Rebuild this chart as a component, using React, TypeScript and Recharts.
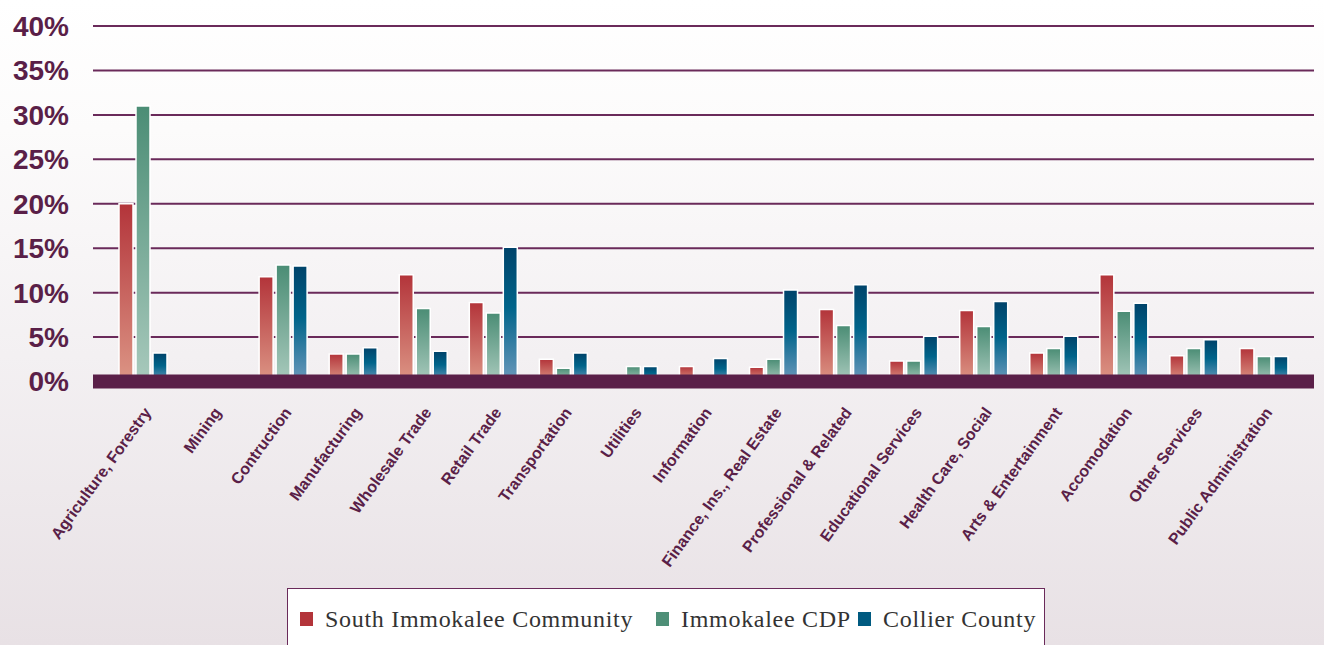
import React from "react";
import {
  BarChart, Bar, XAxis, YAxis, CartesianGrid, ReferenceLine,
} from "recharts";

const categories = [
  "Agriculture, Forestry", "Mining", "Contruction", "Manufacturing",
  "Wholesale Trade", "Retail Trade", "Transportation", "Utilities",
  "Information", "Finance, Ins., Real Estate", "Professional & Related",
  "Educational Services", "Health Care, Social", "Arts & Entertainment",
  "Accomodation", "Other Services", "Public Administration",
];

const southImmokalee = [20, 0, 11.8, 3.1, 12.0, 8.9, 2.5, 0, 1.7, 1.6, 8.1, 2.3, 8.0, 3.2, 12.0, 2.9, 3.7];
const immokaleeCdp = [31.0, 0, 13.1, 3.1, 8.2, 7.7, 1.5, 1.7, 0, 2.5, 6.3, 2.3, 6.2, 3.7, 7.9, 3.7, 2.8];
const collierCounty = [3.2, 0, 13.0, 3.8, 3.4, 15.1, 3.2, 1.7, 2.6, 10.3, 10.9, 5.1, 9.0, 5.1, 8.8, 4.7, 2.8];

const yTicks = [0, 5, 10, 15, 20, 25, 30, 35, 40];

const PURPLE = "#5a1f48";

const data = categories.map((name, i) => ({
  name,
  south: southImmokalee[i],
  cdp: immokaleeCdp[i],
  collier: collierCounty[i],
}));

const XTick = ({ x, y, payload }: any) => (
  <g transform={`translate(${x + 9},${y + 31})`}>
    <text
      textAnchor="end"
      transform="rotate(-54)"
      fontFamily="'Liberation Sans', Arial, sans-serif"
      fontWeight="bold"
      fontSize={16}
      fill={PURPLE}
    >
      {payload.value}
    </text>
  </g>
);

const legendItems = [
  { label: "South Immokalee Community", color: "#b3343a", left: 300 },
  { label: "Immokalee CDP", color: "#4e8f77", left: 656 },
  { label: "Collier County", color: "#005a80", left: 858 },
];

export default function App() {
  return (
    <div
      style={{
        position: "fixed", left: 0, top: 0, width: 1324, height: 645, overflow: "hidden",
        background: "linear-gradient(to bottom, #ffffff 0%, #fcfbfb 20%, #f3f0f2 55%, #e8e1e5 100%)",
      }}
    >
      <svg width={0} height={0} style={{ position: "absolute" }}>
        <defs>
          <linearGradient id="gRed" x1="0" y1="0" x2="0" y2="1">
            <stop offset="0%" stopColor="#b3343a" />
            <stop offset="100%" stopColor="#dc9585" />
          </linearGradient>
          <linearGradient id="gGreen" x1="0" y1="0" x2="0" y2="1">
            <stop offset="0%" stopColor="#4b8d75" />
            <stop offset="100%" stopColor="#a8c9bc" />
          </linearGradient>
          <linearGradient id="gBlue" x1="0" y1="0" x2="0" y2="1">
            <stop offset="0%" stopColor="#00436a" />
            <stop offset="45%" stopColor="#00648a" />
            <stop offset="100%" stopColor="#6b99bc" />
          </linearGradient>
        </defs>
      </svg>

      <BarChart
        width={1324}
        height={645}
        data={data}
        margin={{ top: 26, right: 10, left: 0, bottom: 0 }}
        barCategoryGap={11}
        barGap={3}
      >
        <CartesianGrid horizontal vertical={false} stroke="#6a2a5a" strokeWidth={2} strokeOpacity={1} />
        <XAxis
          dataKey="name"
          interval={0}
          height={263.5}
          padding={{ left: 15, right: 15 }}
          axisLine={false}
          tickLine={false}
          tickSize={0}
          tickMargin={0}
          tick={<XTick />}
        />
        <YAxis
          domain={[0, 40]}
          ticks={yTicks}
          width={93}
          axisLine={false}
          tickLine={false}
          tickSize={0}
          tickMargin={24}
          tickFormatter={(v) => `${v}%`}
          tick={{
            fontSize: 28, fontWeight: "bold", fill: PURPLE,
            fontFamily: "'Liberation Sans', Arial, sans-serif",
          }}
        />
        <Bar dataKey="south" fill="url(#gRed)" stroke="#ffffff" strokeWidth={1.5} isAnimationActive={false} />
        <Bar dataKey="cdp" fill="url(#gGreen)" stroke="#ffffff" strokeWidth={1.5} isAnimationActive={false} />
        <Bar dataKey="collier" fill="url(#gBlue)" stroke="#ffffff" strokeWidth={1.5} isAnimationActive={false} />
        <ReferenceLine y={0} stroke={PURPLE} strokeWidth={14} ifOverflow="visible" />
      </BarChart>

      <div
        style={{
          position: "absolute", left: 287, top: 588, width: 758, height: 80,
          background: "#ffffff", border: "1.5px solid #6a2a5a", boxSizing: "border-box",
        }}
      />
      {legendItems.map((it) => (
        <div
          key={it.label}
          style={{
            position: "absolute", left: it.left, top: 605, height: 28,
            display: "flex", alignItems: "center", gap: 12,
            fontFamily: "'Liberation Serif', 'Times New Roman', serif",
            fontSize: 24, letterSpacing: 0.7, color: "#333333", whiteSpace: "nowrap",
          }}
        >
          <span style={{ display: "inline-block", width: 13, height: 14, background: it.color }} />
          <span>{it.label}</span>
        </div>
      ))}
    </div>
  );
}
